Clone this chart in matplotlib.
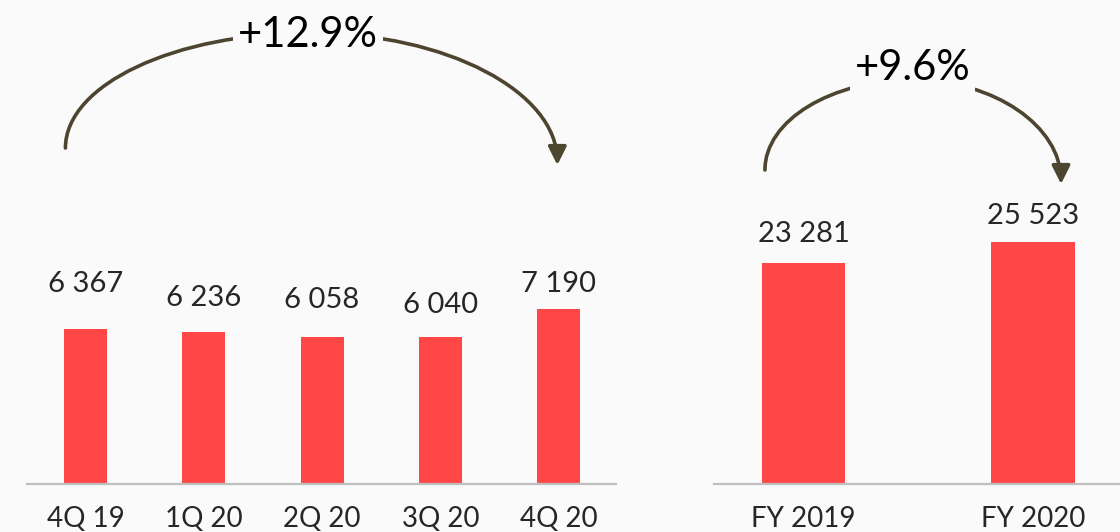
import matplotlib
matplotlib.use("Agg")
import matplotlib.pyplot as plt
from matplotlib.path import Path
from matplotlib.patches import FancyArrowPatch

plt.rcParams['font.family'] = ['Lato', 'DejaVu Sans']

# Quarterly values
quarters = ["4Q 19", "1Q 20", "2Q 20", "3Q 20", "4Q 20"]
quarter_values = [6367, 6236, 6058, 6040, 7190]
quarter_change = "+12.9%"

# Full-year values
years = ["FY 2019", "FY 2020"]
year_values = [23281, 25523]
year_change = "+9.6%"

BG = "#FAFAFA"
BAR = "#FF4747"
ARROW = "#4D4530"
AXIS = "#BFBFBF"
TEXT = "#262626"

W, H, DPI = 1120, 532, 100
fig = plt.figure(figsize=(W / DPI, H / DPI), dpi=DPI, facecolor=BG)


def fmt(v):
    return f"{v:,}".replace(",", " ")


def arc(ax, x0, y0, xm, ytop, x1, y1):
    """Half-ellipse style arrow from (x0, y0) over (xm, ytop) down to (x1, y1)."""
    k = 0.5523
    verts = [
        (x0, y0),
        (x0, y0 + k * (ytop - y0)),
        (xm - k * (xm - x0), ytop),
        (xm, ytop),
        (xm + k * (x1 - xm), ytop),
        (x1, y1 + k * (ytop - y1)),
        (x1, y1),
    ]
    codes = [Path.MOVETO] + [Path.CURVE4] * 6
    patch = FancyArrowPatch(
        path=Path(verts, codes),
        arrowstyle="-|>,head_length=1.1,head_width=0.55",
        mutation_scale=10,
        color=ARROW,
        lw=2.6,
        transform=ax.transData,
        clip_on=False,
        zorder=3,
    )
    ax.add_patch(patch)


def style_axes(ax):
    ax.set_facecolor(BG)
    for side in ("left", "right", "top"):
        ax.spines[side].set_visible(False)
    ax.spines["bottom"].set_color(AXIS)
    ax.spines["bottom"].set_linewidth(1.6)
    ax.set_yticks([])
    ax.tick_params(axis="x", length=0, pad=31, labelsize=20, labelcolor=TEXT)
    for lab in ax.get_xticklabels():
        lab.set_va("baseline")


# ---- Quarterly panel ----
axq = fig.add_axes([27 / W, 48 / H, (616 - 27) / W, 484 / H])
axq.set_xlim(-0.495, 4.486)
axq.set_ylim(0, 19886)
xq = range(len(quarters))
axq.bar(xq, quarter_values, width=0.364, color=BAR, zorder=2)
axq.set_xticks(list(xq))
axq.set_xticklabels(quarters)
style_axes(axq)

q_offsets = [37, 26, 29, 24, 17]  # label gap above each bar, px
for x, v, off in zip(xq, quarter_values, q_offsets):
    axq.annotate(fmt(v), (x, v), xytext=(0, off * 0.72), textcoords="offset points",
                 ha="center", va="baseline", fontsize=21, color=TEXT)

arc(axq, -0.17, 13804, 1.90, 18529, 3.99, 13106)
axq.text(1.88, 17954, quarter_change, ha="center", va="baseline", fontsize=30,
         color="black", zorder=4,
         bbox=dict(boxstyle="square,pad=0.12", fc=BG, ec="none"))

# ---- Full-year panel ----
axy = fig.add_axes([714 / W, 48 / H, (W - 714) / W, 484 / H])
axy.set_xlim(-0.39, 1.379)
axy.set_ylim(0, 50947)
xy = range(len(years))
axy.bar(xy, year_values, width=0.362, color=BAR, zorder=2)
axy.set_xticks(list(xy))
axy.set_xticklabels(years)
style_axes(axy)

y_offsets = [21, 18]
for x, v, off in zip(xy, year_values, y_offsets):
    axy.annotate(fmt(v), (x, v), xytext=(0, off * 0.72), textcoords="offset points",
                 ha="center", va="baseline", fontsize=21, color=TEXT)

arc(axy, -0.168, 33053, 0.477, 42526, 1.122, 31579)
axy.text(0.475, 42526, year_change, ha="center", va="baseline", fontsize=30,
         color="black", zorder=4,
         bbox=dict(boxstyle="square,pad=0.12", fc=BG, ec="none"))

fig.savefig("out.png", dpi=DPI, facecolor=BG)
